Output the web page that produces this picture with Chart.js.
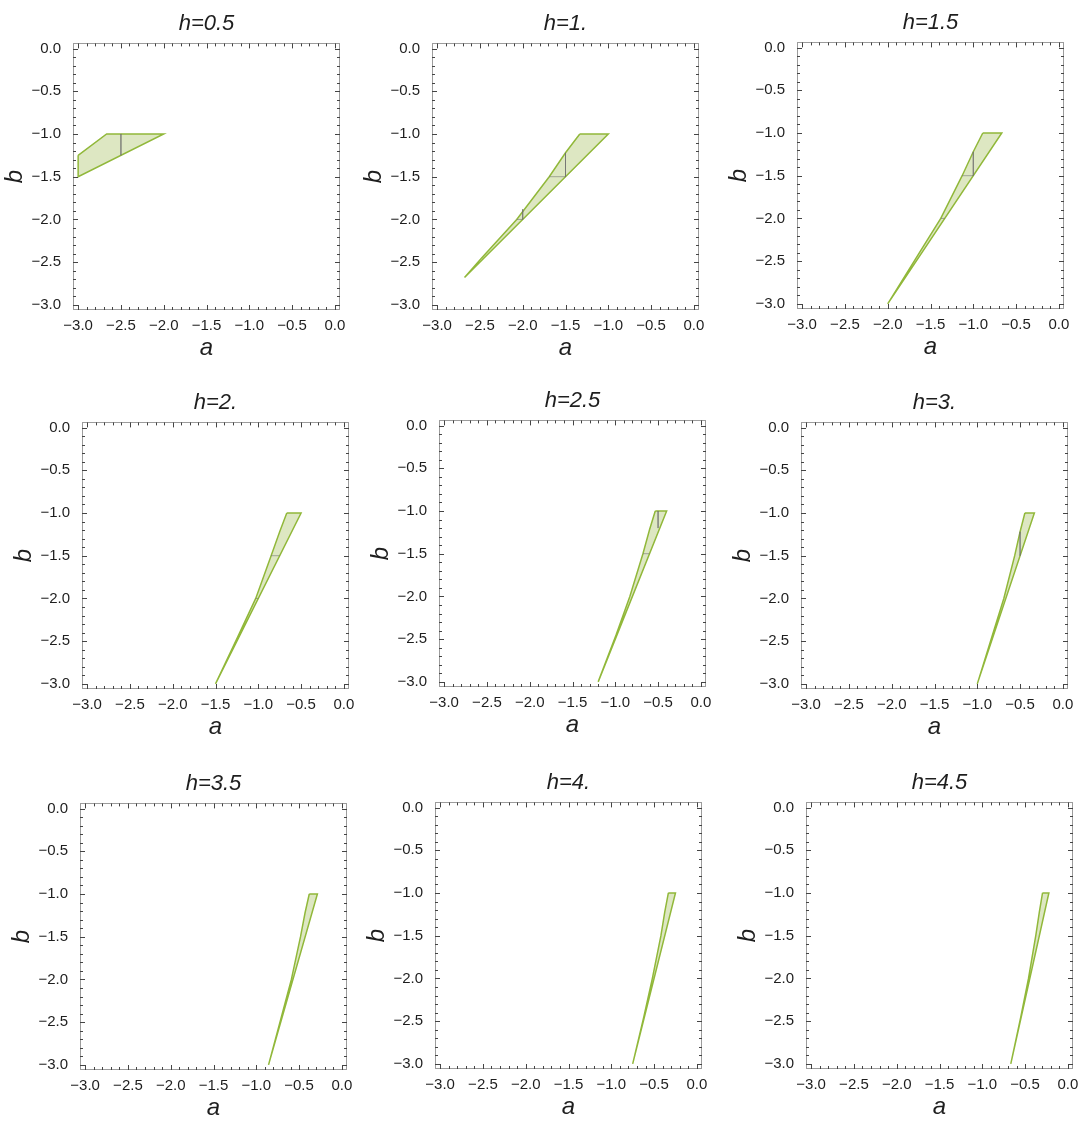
<!DOCTYPE html>
<html>
<head>
<meta charset="utf-8">
<script src="https://cdn.jsdelivr.net/npm/chart.js@4.4.0/dist/chart.umd.min.js"></script>
<style>
  html, body { margin:0; padding:0; background:#fff; overflow:hidden; }
  body { width:1086px; height:1121px; position:relative; }
  canvas { position:absolute; }
</style>
</head>
<body>
<script>
'use strict';

// panel titles
let hLabels=['h=0.5','h=1.','h=1.5','h=2.','h=2.5','h=3.','h=3.5','h=4.','h=4.5'];
// labelled ticks on both axes
let tickValues=[-3,-2.5,-2,-1.5,-1,-0.5,0];

// region outline (a, b) for every h
let region05=[[-3,-1.25],[-2.667,-1],[-2,-1],[-3,-1.5]];
let region10=[[-1.333,-1],[-1.5,-1.22],[-1.69,-1.5],[-2.07,-2],[-2.48,-2.45],[-2.68,-2.68],[-1,-1]];
let region15=[[-0.889,-1],[-1,-1.22],[-1.13,-1.5],[-1.38,-2],[-1.66,-2.45],[-2,-3],[-0.667,-1]];
let region20=[[-0.667,-1],[-0.75,-1.22],[-0.85,-1.5],[-1.03,-2],[-1.24,-2.45],[-1.5,-3],[-0.5,-1]];
let region25=[[-0.533,-1],[-0.6,-1.22],[-0.677,-1.5],[-0.83,-2],[-0.99,-2.45],[-1.2,-3],[-0.4,-1]];
let region30=[[-0.444,-1],[-0.5,-1.22],[-0.563,-1.5],[-0.69,-2],[-0.83,-2.45],[-1,-3],[-0.333,-1]];
let region35=[[-0.381,-1],[-0.43,-1.22],[-0.483,-1.5],[-0.59,-2],[-0.71,-2.45],[-0.857,-3],[-0.286,-1]];
let region40=[[-0.333,-1],[-0.375,-1.22],[-0.42,-1.5],[-0.52,-2],[-0.62,-2.45],[-0.75,-3],[-0.25,-1]];
let region45=[[-0.296,-1],[-0.333,-1.22],[-0.375,-1.5],[-0.46,-2],[-0.55,-2.45],[-0.667,-3],[-0.222,-1]];
let regions=[region05,region10,region15,region20,region25,region30,region35,region40,region45];

// thin grey mesh lines inside the regions
let meshes=[
  [[[-2.5,-1],[-2.5,-1.25]]],
  [[[-1.5,-1.22],[-1.5,-1.5]],[[-1.69,-1.5],[-1.5,-1.5]],[[-2.07,-2],[-2,-2]],[[-2,-1.88],[-2,-2]]],
  [[[-1,-1.22],[-1,-1.5]],[[-1.13,-1.5],[-1,-1.5]],[[-1.38,-2],[-1.333,-2]]],
  [[[-0.85,-1.5],[-0.75,-1.5]],[[-1.03,-2],[-1,-2]]],
  [[[-0.5,-1],[-0.5,-1.2]],[[-0.677,-1.5],[-0.6,-1.5]]],
  [[[-0.5,-1.22],[-0.5,-1.5]]],
  [],
  [],
  []
];

// top-left corner of each plot frame on the page
let frames=[[73,43],[432,43],[797,42],[82,422],[439,420],[801,422],[80,803],[435,802],[806,802]];

let fillCol='rgb(221,231,194)';
let edgeCol='rgb(145,184,58)';
let meshCol='rgba(110,110,110,0.55)';
let font='"Liberation Sans", Arial, sans-serif';

function fmt(v){
  return (v<0?'\u2212':'')+Math.abs(v).toFixed(1);
}

let framePlugin={
  id:'frame',
  afterDatasetsDraw(chart){
    let ctx=chart.ctx, a=chart.chartArea, xs=chart.scales.x, ys=chart.scales.y;
    ctx.save();
    ctx.strokeStyle='#9c9c9c';
    ctx.lineWidth=1;
    ctx.strokeRect(Math.round(a.left)+0.5,Math.round(a.top)+0.5,Math.round(a.width)-1,Math.round(a.height)-1);
    ctx.strokeStyle='#444';
    ctx.beginPath();
    for(let k=-30;k<=0;k++){
      let v=k/10;
      let len=(k%5===0)?5:3;
      let px=Math.round(xs.getPixelForValue(v))+0.5;
      ctx.moveTo(px,a.bottom);ctx.lineTo(px,a.bottom-len);
      ctx.moveTo(px,a.top);ctx.lineTo(px,a.top+len);
      let py=Math.round(ys.getPixelForValue(v))+0.5;
      ctx.moveTo(a.left,py);ctx.lineTo(a.left+len,py);
      ctx.moveTo(a.right,py);ctx.lineTo(a.right-len,py);
    }
    ctx.stroke();
    ctx.restore();
  }
};

function toPts(arr){
  return arr.map(p=>({x:p[0],y:p[1]}));
}

function makePanel(i){
  let cv=document.createElement('canvas');
  cv.width=354;
  cv.height=370;
  cv.style.left=(frames[i][0]-73)+'px';
  cv.style.top=(frames[i][1]-43)+'px';
  document.body.appendChild(cv);

  let datasets=[{
    data:toPts(regions[i].concat([regions[i][0]])),
    showLine:true, fill:'shape', tension:0,
    backgroundColor:fillCol, borderColor:edgeCol, borderWidth:1.5,
    pointRadius:0, order:1
  }];
  for(let seg of meshes[i]){
    datasets.push({
      data:toPts(seg), showLine:true, fill:false,
      borderColor:meshCol, borderWidth:1, pointRadius:0, order:0
    });
  }

  let tickOpts={padding:4,color:'#1e1e1e',font:{family:font,size:15},callback:fmt,autoSkip:false,maxRotation:0};

  new Chart(cv,{
    type:'scatter',
    data:{datasets:datasets},
    options:{
      responsive:false, animation:false, events:[],
      layout:{padding:{left:0,right:14,top:0,bottom:0}},
      plugins:{
        legend:{display:false}, tooltip:{enabled:false},
        title:{display:true, fullSize:false, text:hLabels[i], color:'#1e1e1e',
          font:{family:font,size:22,style:'italic',weight:'normal'}, padding:{top:11,bottom:6}}
      },
      scales:{
        x:{type:'linear', position:'bottom', min:-3.06, max:0.06,
          afterBuildTicks:s=>{s.ticks=tickValues.map(v=>({value:v}));},
          afterFit:s=>{s.height=60;},
          grid:{display:false}, border:{display:false},
          ticks:Object.assign({},tickOpts,{padding:-1}),
          title:{display:true,text:'a',color:'#1e1e1e',font:{family:font,size:24,style:'italic'},padding:{top:0,bottom:7}}},
        y:{type:'linear', position:'left', min:-3.06, max:0.06,
          afterBuildTicks:s=>{s.ticks=tickValues.map(v=>({value:v}));},
          afterFit:s=>{s.width=73;},
          grid:{display:false}, border:{display:false},
          ticks:tickOpts,
          title:{display:true,text:'b',color:'#1e1e1e',font:{family:font,size:24,style:'italic'},padding:{top:1,bottom:0}}}
      }
    },
    plugins:[framePlugin]
  });
}

for(let i=0;i<9;i++){
  makePanel(i);
}
</script>
</body>
</html>
